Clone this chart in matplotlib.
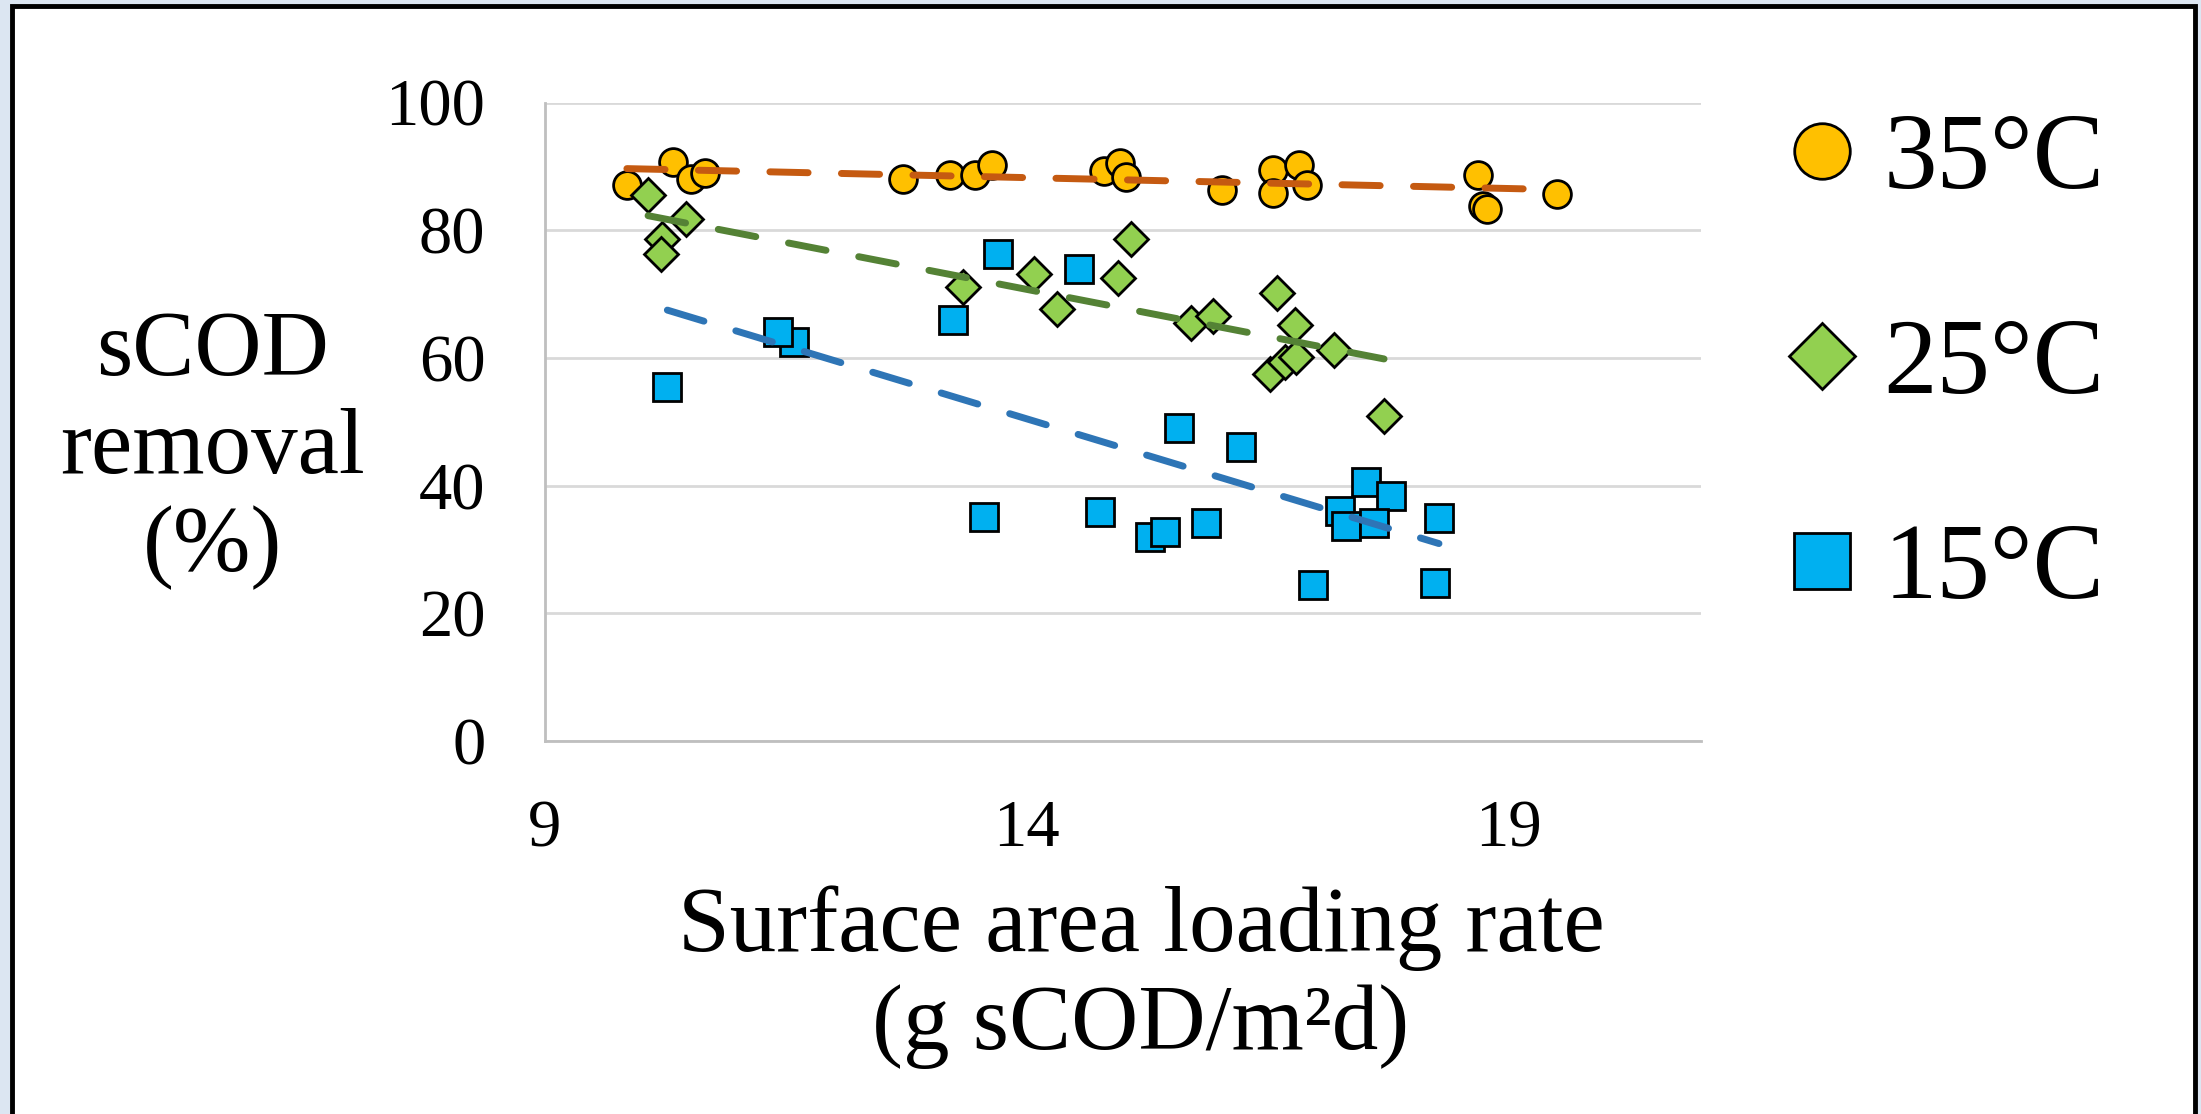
import numpy as np
import matplotlib.pyplot as plt
from matplotlib.patches import Rectangle

plt.rcParams['font.family'] = ['Liberation Serif', 'DejaVu Serif']

# 35°C
x35 = [9.85, 10.33, 10.52, 10.66, 12.72, 13.20, 13.46, 13.64, 14.80, 14.97,
       15.03, 16.03, 16.56, 16.56, 16.83, 16.91, 18.68, 18.74, 18.78, 19.50]
y35 = [87.1, 90.7, 88.0, 88.9, 88.0, 88.6, 88.6, 90.2, 89.2, 90.6,
       88.4, 86.3, 89.4, 85.9, 90.2, 87.1, 88.6, 83.8, 83.3, 85.7]

# 25°C
x25 = [10.07, 10.46, 10.21, 10.20, 13.34, 14.08, 14.32, 14.95, 15.08, 15.71,
       15.93, 16.60, 16.79, 16.53, 16.68, 16.80, 17.19, 17.71]
y25 = [85.5, 81.7, 78.7, 76.3, 71.1, 73.1, 67.6, 72.5, 78.7, 65.4,
       66.6, 70.2, 65.2, 57.5, 59.4, 60.2, 61.3, 50.9]

# 15°C
x15 = [10.27, 11.58, 11.42, 13.24, 13.70, 14.54, 15.58, 13.56, 14.76, 15.28,
       15.44, 15.86, 16.23, 17.52, 17.78, 17.25, 17.31, 17.61, 18.28, 16.97, 18.24]
y15 = [55.5, 62.5, 64.1, 65.9, 76.3, 73.9, 49.0, 35.1, 35.8, 31.9,
       32.8, 34.2, 46.1, 40.6, 38.4, 36.1, 33.6, 34.1, 34.9, 24.4, 24.7]

labels = ['35°C', '25°C', '15°C']
xticks = [9, 14, 19]
yticks = [0, 20, 40, 60, 80, 100]

series = [
    (x35, y35, 'o', 20, '#FFC000', '#C55A11'),
    (x25, y25, 'D', 17, '#92D050', '#548235'),
    (x15, y15, 's', 20, '#00B0F0', '#2E75B6'),
]

W, H = 2201, 1114
fig = plt.figure(figsize=(W / 100, H / 100), dpi=100, facecolor='#DCE6F2')

# белая рамка с чёрной границей
frame = Rectangle((12 / W, -0.05), (2195 - 12) / W, 1.05 - 6.5 / H,
                  transform=fig.transFigure, facecolor='white',
                  edgecolor='black', linewidth=3.5, zorder=-10)
fig.patches.append(frame)

ax = fig.add_axes([545 / W, (H - 741) / H, (1701 - 545) / W, (741 - 102.5) / H])
ax.set_facecolor('none')

handles = []
for xs, ys, m, ms, fc, lc in series:
    h, = ax.plot(xs, ys, linestyle='none', marker=m, markersize=ms,
                 markerfacecolor=fc, markeredgecolor='black',
                 markeredgewidth=2, zorder=3)
    handles.append(h)

# линейные тренды
for xs, ys, m, ms, fc, lc in series:
    k, b = np.polyfit(xs, ys, 1)
    xx = np.array([min(xs), max(xs)])
    ax.plot(xx, k * xx + b, color=lc, linewidth=5, dashes=(5.5, 4.8),
            dash_capstyle='round', zorder=4)

ax.set_xlim(9, 21)
ax.set_ylim(0, 100)
ax.set_xticks(xticks)
ax.set_yticks(yticks)
ax.tick_params(axis='both', length=0, labelsize=48)
ax.tick_params(axis='y', pad=43)
ax.tick_params(axis='x', pad=42)
ax.grid(axis='y', color='#D9D9D9', linewidth=2)
ax.set_axisbelow(True)
for s in ['top', 'right']:
    ax.spines[s].set_visible(False)
for s in ['left', 'bottom']:
    ax.spines[s].set_color('#BFBFBF')
    ax.spines[s].set_linewidth(2)

ax.set_xlabel('Surface area loading rate\n(g sCOD/m²d)', fontsize=67,
              linespacing=1.2)
ax.xaxis.set_label_coords(0.5156, -0.2255)
ax.xaxis.label.set_va('top')

ax.set_ylabel('sCOD\nremoval\n(%)', fontsize=67, rotation=0,
              ha='center', va='center', linespacing=1.2)
ax.yaxis.set_label_coords((213 - 545) / 1156, (741 - 450) / 638.5)

fig.legend(handles, labels, loc='upper left',
           bbox_to_anchor=(1736 / W, 1 - 60 / H), frameon=False,
           fontsize=77, markerscale=2, handlelength=0.6,
           handletextpad=0.28, labelspacing=1.0, borderpad=0)

fig.savefig('out.png', dpi=100, facecolor=fig.get_facecolor())
